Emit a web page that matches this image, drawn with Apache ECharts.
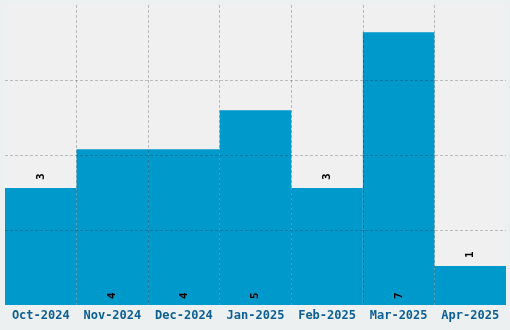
<!DOCTYPE html>
<html><head><meta charset="utf-8">
<script src="https://cdn.jsdelivr.net/npm/echarts@6/dist/echarts.min.js"></script>
<style>html,body{margin:0;padding:0;background:#ecf0f1;}#c{width:510px;height:330px;}</style>
</head><body><div id="c"></div>
<script>
const categories = ['Oct-2024','Nov-2024','Dec-2024','Jan-2025','Feb-2025','Mar-2025','Apr-2025'];
const values = [3,4,4,5,3,7,1];
const labelPositions = ['top','insideBottom','insideBottom','insideBottom','top','insideBottom','top'];

const chart = echarts.init(document.getElementById('c'));
chart.setOption({
  backgroundColor: '#ecf0f1',
  animation: false,
  grid: {left:5, right:4, top:5, bottom:25, show:true, backgroundColor:'#f0f0f0', borderWidth:0},
  xAxis: {
    type:'category', data:categories, z:3,
    axisLine:{show:false}, axisTick:{show:false},
    axisLabel:{color:'#0b5f95', fontFamily:'DejaVu Sans Mono', fontWeight:'bold', fontSize:12, margin:5, interval:0},
    splitLine:{show:true, interval:0, showMinLine:false, showMaxLine:false, lineStyle:{color:'rgba(0,0,0,0.22)', type:[3,2], width:1}}
  },
  yAxis: {
    type:'value', min:0, max:7.7, interval:1.925, z:3,
    axisLine:{show:false}, axisTick:{show:false}, axisLabel:{show:false},
    splitLine:{show:true, showMinLine:false, showMaxLine:false, lineStyle:{color:'rgba(0,0,0,0.22)', type:[3,2], width:1}}
  },
  series: [{
    type:'bar', barCategoryGap:'0%', barGap:'0%',
    itemStyle:{color:'#0099cc'},
    data: values.map((v,i)=>({value:v, label:{position:labelPositions[i], distance: labelPositions[i]==='top'?8:6}})),
    label:{show:true, rotate:90, align:'left', verticalAlign:'middle', color:'#000', fontFamily:'DejaVu Sans Mono', fontWeight:'bold', fontSize:11}
  }]
});
</script></body></html>
